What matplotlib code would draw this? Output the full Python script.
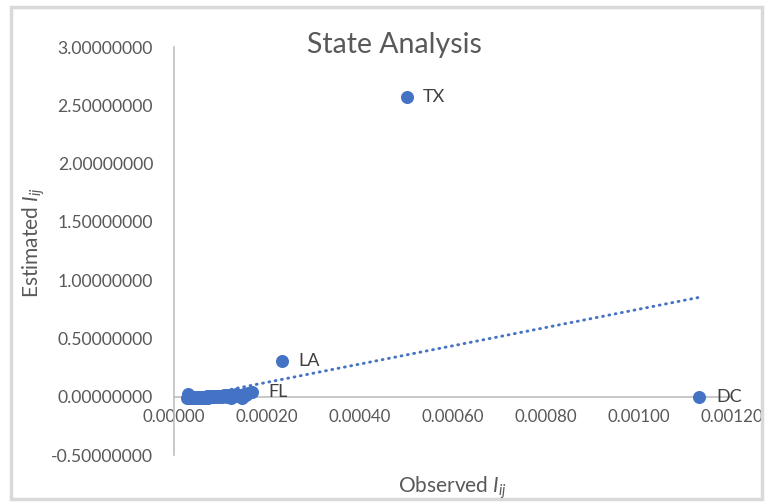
import numpy as np
import matplotlib
matplotlib.use("Agg")
from matplotlib import pyplot as plt
from matplotlib.patches import Rectangle

plt.rcParams['font.family'] = ['Lato', 'DejaVu Sans']
plt.rcParams['mathtext.fontset'] = 'custom'
plt.rcParams['mathtext.rm'] = 'Lato'
plt.rcParams['mathtext.it'] = 'Lato:italic'

# small states, bunched near the origin
cluster_x = [0.000028, 0.000030, 0.000033, 0.000035, 0.000038, 0.000041, 0.000044,
             0.000047, 0.000050, 0.000052, 0.000055, 0.000058, 0.000060, 0.000063,
             0.000066, 0.000068, 0.000071, 0.000074, 0.000077, 0.000080, 0.000083,
             0.000086, 0.000089, 0.000092, 0.000095, 0.000098, 0.000101, 0.000104,
             0.000107, 0.000110, 0.000113, 0.000116, 0.000120, 0.000123, 0.000127,
             0.000130, 0.000134, 0.000138, 0.000142, 0.000146, 0.000150, 0.000155,
             0.000160]
cluster_y = [-0.012, 0.025, -0.010, -0.008, -0.013, -0.006, -0.011, -0.004, -0.009,
             -0.002, -0.010, -0.005, -0.012, 0.000, -0.007, -0.003, 0.004, -0.008,
             0.002, -0.004, 0.006, -0.006, 0.003, 0.008, -0.002, 0.010, 0.004,
             -0.005, 0.012, 0.006, 0.000, 0.014, 0.008, -0.010, 0.016, 0.010, 0.020,
             0.004, 0.018, -0.008, 0.024, 0.012, 0.030]

# labelled states
labels = ['FL', 'LA', 'TX', 'DC']
labelled_x = [0.000168, 0.000232, 0.000500, 0.001130]
labelled_y = [0.043, 0.307, 2.575, -0.005]

xticks = [0.0, 0.0002, 0.0004, 0.0006, 0.0008, 0.0010, 0.0012]
yticks = [-0.5, 0.0, 0.5, 1.0, 1.5, 2.0, 2.5, 3.0]

blue = '#4472C4'
grey_txt = '#595959'

x_all = np.array(cluster_x + labelled_x)
y_all = np.array(cluster_y + labelled_y)

fig = plt.figure(figsize=(7.66, 5.04), dpi=100)
ax = fig.add_axes([174 / 766, 0.0972, 558 / 766, 0.8095])

ax.scatter(x_all, y_all, s=88, color=blue, zorder=3, linewidths=0)

# linear trendline, like excel's
k, b = np.polyfit(x_all, y_all, 1)
tx = np.array([x_all.min(), x_all.max()])
ax.plot(tx, k * tx + b, color=blue, lw=2.1, linestyle=(0, (0.3, 1.9)),
        dash_capstyle='round', zorder=2)

for lab, xv, yv in zip(labels, labelled_x, labelled_y):
    ax.annotate(lab, (xv, yv), xytext=(12, 0), textcoords='offset points',
                va='center', ha='left', fontsize=13, color='#404040')

ax.set_xlim(0, 0.0012)
ax.set_ylim(-0.5, 3.0)
ax.set_xticks(xticks)
ax.set_yticks(yticks)
ax.set_xticklabels([f'{v:.5f}' for v in xticks])
ax.set_yticklabels([f'{v:.8f}' for v in yticks])
ax.tick_params(length=0, colors=grey_txt)
ax.tick_params(axis='y', pad=15, labelsize=12.7)
ax.tick_params(axis='x', pad=9, labelsize=12.2)

ax.spines['top'].set_visible(False)
ax.spines['right'].set_visible(False)
ax.spines['bottom'].set_position(('data', 0))
ax.spines['left'].set_color('#bfbfbf')
ax.spines['bottom'].set_color('#bfbfbf')
ax.spines['left'].set_linewidth(1.2)
ax.spines['bottom'].set_linewidth(1.2)

fig.text(394 / 766, 1 - 45 / 504, 'State Analysis', ha='center', va='center',
         fontsize=20.5, color=grey_txt)
fig.text(34 / 766, 1 - 243 / 504, r'Estimated $\mathit{I}_{ij}$', rotation=90,
         ha='center', va='center', fontsize=15, color=grey_txt)
fig.text(452 / 766, 1 - 488 / 504, r'Observed $\mathit{I}_{ij}$',
         ha='center', va='center', fontsize=15, color=grey_txt)

# chart frame
fig.patches.append(Rectangle((11 / 766, 5 / 504), 751 / 766, 492 / 504,
                             transform=fig.transFigure, fill=False,
                             edgecolor='#d9d9d9', lw=2.5))

fig.savefig('out.png', dpi=100)
